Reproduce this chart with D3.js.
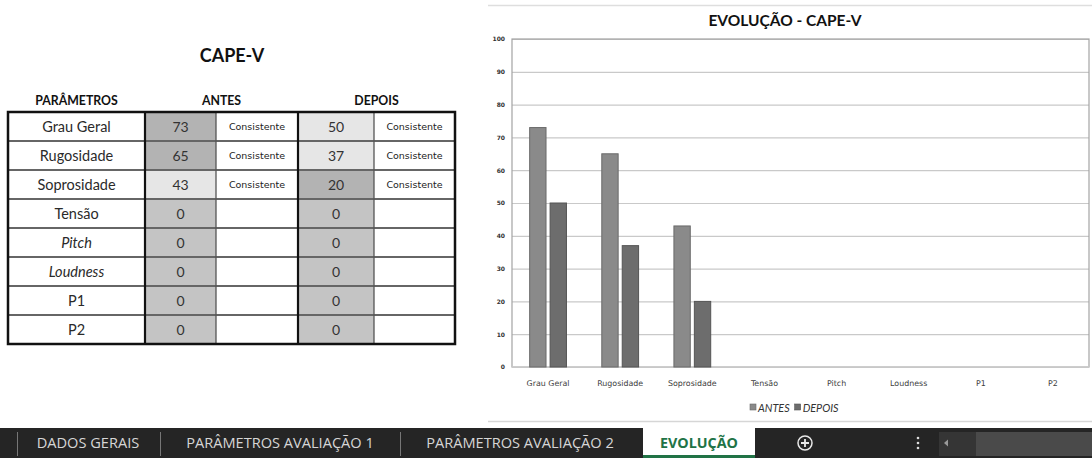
<!DOCTYPE html>
<html><head><meta charset="utf-8">
<script src="https://cdn.jsdelivr.net/npm/d3@7"></script>
<style>html,body{margin:0;padding:0;background:#fff;overflow:hidden}</style>
</head><body><svg id="c" width="1092" height="458"></svg>
<script>
// ---------- data ----------
const categories = ["Grau Geral","Rugosidade","Soprosidade","Tensão","Pitch","Loudness","P1","P2"];
const antes = [73,65,43,0,0,0,0,0];
const depois = [50,37,20,0,0,0,0,0];
const antesStatus = ["Consistente","Consistente","Consistente","","","","",""];
const depoisStatus = ["Consistente","Consistente","Consistente","","","","",""];
const seriesNames = ["ANTES","DEPOIS"];
const yTicks = [0,10,20,30,40,50,60,70,80,90,100];
const tableTitle = "CAPE-V";
const tableHeaders = ["PARÂMETROS","ANTES","DEPOIS"];
const chartTitle = "EVOLUÇÃO - CAPE-V";
const sheetTabs = ["DADOS GERAIS","PARÂMETROS AVALIAÇÃO 1","PARÂMETROS AVALIAÇÃO 2","EVOLUÇÃO"];

// ---------- styles ----------
const shadeColor = {dark:"#b3b3b3", light:"#e6e6e6", zero:"#c4c4c4"};
const antesShade = ["dark","dark","light","zero","zero","zero","zero","zero"];
const depoisShade = ["light","light","dark","zero","zero","zero","zero","zero"];
const italicRows = new Set(["Pitch","Loudness"]);
const barFill = {ANTES:"#8a8a8a", DEPOIS:"#6d6d6d"};
const barStroke = {ANTES:"#6a6a6a", DEPOIS:"#555555"};

const svg = d3.select("#c");

// ================= TABLE =================
const colEdges = [8,145,216,298,374,455];
const rowY = d3.scaleBand().domain(categories).range([112,344]);
const T = svg.append("g");

T.append("text").attr("x",232).attr("y",62).attr("text-anchor","middle")
 .attr("font-family","Lato").attr("font-weight","bold").attr("font-size",18).attr("fill","#111")
 .text(tableTitle);
const headerX = [(colEdges[0]+colEdges[1])/2, (colEdges[1]+colEdges[3])/2, (colEdges[3]+colEdges[5])/2];
T.selectAll("text.hdr").data(tableHeaders).join("text").attr("class","hdr")
 .attr("x",(d,i)=>headerX[i]).attr("y",105).attr("text-anchor","middle")
 .attr("font-family","Lato").attr("font-weight","bold").attr("font-size",12.3).attr("fill","#111")
 .text(d=>d);

const rows = categories.map((c,i)=>({c,i,a:antes[i],d:depois[i],sa:antesStatus[i],sd:depoisStatus[i]}));
const rg = T.selectAll("g.row").data(rows).join("g").attr("class","row")
 .attr("transform",d=>`translate(0,${rowY(d.c)})`);
const h = rowY.bandwidth();
rg.append("rect").attr("x",colEdges[1]).attr("width",colEdges[2]-colEdges[1]).attr("height",h)
 .attr("fill",d=>shadeColor[antesShade[d.i]]);
rg.append("rect").attr("x",colEdges[3]).attr("width",colEdges[4]-colEdges[3]).attr("height",h)
 .attr("fill",d=>shadeColor[depoisShade[d.i]]);
rg.append("text").attr("x",(colEdges[0]+colEdges[1])/2).attr("y",h/2+5).attr("text-anchor","middle")
 .attr("font-family","Lato").attr("font-size",14.5).attr("fill","#2a2a2a")
 .attr("font-style",d=>italicRows.has(d.c)?"italic":"normal").text(d=>d.c);
rg.append("text").attr("x",(colEdges[1]+colEdges[2])/2).attr("y",h/2+5).attr("text-anchor","middle")
 .attr("font-family","Lato").attr("font-size",14).attr("fill","#333").text(d=>d.a);
rg.append("text").attr("x",(colEdges[3]+colEdges[4])/2).attr("y",h/2+5).attr("text-anchor","middle")
 .attr("font-family","Lato").attr("font-size",14).attr("fill","#333").text(d=>d.d);
rg.append("text").attr("x",(colEdges[2]+colEdges[3])/2).attr("y",h/2+3.5).attr("text-anchor","middle")
 .attr("font-family","DejaVu Sans").attr("font-size",9.5).attr("fill","#222").text(d=>d.sa);
rg.append("text").attr("x",(colEdges[4]+colEdges[5])/2).attr("y",h/2+3.5).attr("text-anchor","middle")
 .attr("font-family","DejaVu Sans").attr("font-size",9.5).attr("fill","#222").text(d=>d.sd);

// inner horizontal lines
T.selectAll("line.hl").data(categories.slice(1)).join("line").attr("class","hl")
 .attr("x1",colEdges[0]).attr("x2",colEdges[5]).attr("y1",d=>rowY(d)).attr("y2",d=>rowY(d))
 .attr("stroke","#666").attr("stroke-width",2.2);
// vertical lines
[[colEdges[2],"#555",1.3],[colEdges[4],"#555",1.3],[colEdges[1],"#111",2.2],[colEdges[3],"#111",2.2]].forEach(([x,c,w])=>{
  T.append("line").attr("x1",x).attr("x2",x).attr("y1",rowY.range()[0]).attr("y2",rowY.range()[1])
   .attr("stroke",c).attr("stroke-width",w);
});
T.append("rect").attr("x",colEdges[0]).attr("y",rowY.range()[0]).attr("width",colEdges[5]-colEdges[0])
 .attr("height",rowY.range()[1]-rowY.range()[0]).attr("fill","none").attr("stroke","#111").attr("stroke-width",2.5);

// ================= CHART =================
const C = svg.append("g");
C.append("line").attr("x1",488).attr("x2",1092).attr("y1",5.5).attr("y2",5.5).attr("stroke","#dedede").attr("stroke-width",1.5);
C.append("line").attr("x1",488).attr("x2",1092).attr("y1",421.5).attr("y2",421.5).attr("stroke","#d6d6d6").attr("stroke-width",1.5);

C.append("text").attr("x",785).attr("y",26).attr("text-anchor","middle")
 .attr("font-family","Lato").attr("font-weight","bold").attr("font-size",15.5).attr("fill","#111").text(chartTitle);

const pl = 512, pr = 1089, pt = 39, pb = 367;
const y = d3.scaleLinear().domain([0,100]).range([pb,pt]);
const x0 = d3.scaleBand().domain(categories).range([pl,pr]).paddingInner(0.49).paddingOuter(0.245);
const x1 = d3.scaleBand().domain(seriesNames).range([0,x0.bandwidth()]).paddingInner(0.2);

// gridlines + y axis
const ya = d3.axisLeft(y).tickValues(yTicks).tickSize(-(pr-pl)).tickPadding(7);
const yg = C.append("g").attr("transform",`translate(${pl},0)`).call(ya);
yg.select(".domain").remove();
yg.selectAll(".tick line").attr("stroke","#c9c9c9").attr("stroke-width",1.2);
yg.selectAll(".tick text").attr("font-family","DejaVu Sans").attr("font-weight","bold")
 .attr("font-size",6).attr("fill","#333");
// plot border
C.append("rect").attr("x",pl).attr("y",pt).attr("width",pr-pl).attr("height",pb-pt)
 .attr("fill","none").attr("stroke","#a3a3a3").attr("stroke-width",1.2);
C.append("line").attr("x1",pl).attr("x2",pr).attr("y1",pb).attr("y2",pb).attr("stroke","#cfcfcf").attr("stroke-width",1.5);

// bars
const bdata = categories.map((c,i)=>({c, vals:[{s:"ANTES",v:antes[i]},{s:"DEPOIS",v:depois[i]}]}));
C.selectAll("g.cat").data(bdata).join("g").attr("class","cat")
 .attr("transform",d=>`translate(${x0(d.c)},0)`)
 .selectAll("rect").data(d=>d.vals.filter(v=>v.v>0)).join("rect")
 .attr("x",d=>x1(d.s)).attr("width",x1.bandwidth())
 .attr("y",d=>y(d.v)).attr("height",d=>y(0)-y(d.v))
 .attr("fill",d=>barFill[d.s]).attr("stroke",d=>barStroke[d.s]).attr("stroke-width",1);

// x axis labels
const xa = d3.axisBottom(x0).tickSize(0).tickPadding(13);
const xg = C.append("g").attr("transform",`translate(0,${pb})`).call(xa);
xg.select(".domain").remove();
xg.selectAll(".tick text").attr("font-family","DejaVu Sans").attr("font-size",7.9).attr("fill","#404040");

// legend
const lg = C.append("g").attr("transform","translate(750,404)");
let lx = 0;
seriesNames.forEach(s=>{
  lg.append("rect").attr("x",lx).attr("y",0).attr("width",6).attr("height",6).attr("fill",barFill[s]).attr("stroke",barStroke[s]).attr("stroke-width",0.6);
  const t = lg.append("text").attr("x",lx+8).attr("y",7.5).attr("font-family","Lato").attr("font-style","italic")
   .attr("font-size",10.8).attr("fill","#333").text(s);
  lx += 8 + t.node().getComputedTextLength() + 5;
});

// ================= SHEET TABS =================
const B = svg.append("g");
B.append("rect").attr("x",0).attr("y",428).attr("width",1092).attr("height",30).attr("fill","#252525");
[17,160,400].forEach(xx=>B.append("line").attr("x1",xx+0.5).attr("x2",xx+0.5).attr("y1",432).attr("y2",456).attr("stroke","#777").attr("stroke-width",1));
const tabCenters = [88,280,520];
sheetTabs.slice(0,3).forEach((t,i)=>{
  B.append("text").attr("x",tabCenters[i]).attr("y",448).attr("text-anchor","middle")
   .attr("font-family","Open Sans").attr("font-size",14.6).attr("fill","#d6d6d6").text(t);
});
B.append("rect").attr("x",643).attr("y",428).attr("width",112).attr("height",30).attr("fill","#fff");
B.append("rect").attr("x",643).attr("y",455).attr("width",112).attr("height",3).attr("fill","#217346");
B.append("text").attr("x",699).attr("y",448).attr("text-anchor","middle")
 .attr("font-family","Open Sans").attr("font-weight","bold").attr("font-size",14.3).attr("fill","#217346").text(sheetTabs[3]);
// plus button
B.append("circle").attr("cx",805).attr("cy",443).attr("r",7).attr("fill","none").attr("stroke","#e8e8e8").attr("stroke-width",1.5);
B.append("path").attr("d","M801,443H809M805,439V447").attr("stroke","#e8e8e8").attr("stroke-width",1.8);
// dots
[438,443,448].forEach(yy=>B.append("circle").attr("cx",918).attr("cy",yy).attr("r",1.3).attr("fill","#ddd"));
// scrollbar
B.append("rect").attr("x",939).attr("y",432).attr("width",37).attr("height",24).attr("fill","#353535");
B.append("path").attr("d","M944,443L948,439.5V446.5Z").attr("fill","#9a9a9a");
B.append("rect").attr("x",976).attr("y",432).attr("width",116).attr("height",24).attr("fill","#4a4a4a");
</script></body></html>
